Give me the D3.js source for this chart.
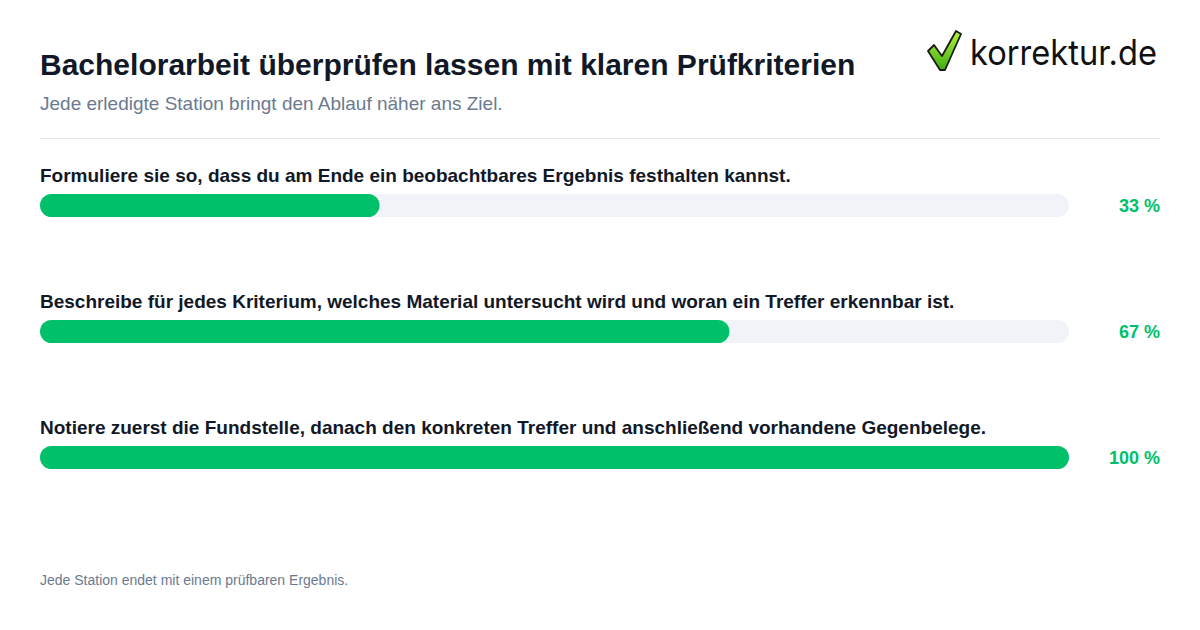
<!DOCTYPE html>
<html><head><meta charset="utf-8">
<script src="https://cdn.jsdelivr.net/npm/d3@7"></script>
<style>html,body{margin:0;padding:0;background:#fff;}</style>
</head><body>
<svg id="c" width="1200" height="630"></svg>
<script>
const title = "Bachelorarbeit überprüfen lassen mit klaren Prüfkriterien";
const subtitle = "Jede erledigte Station bringt den Ablauf näher ans Ziel.";
const footer = "Jede Station endet mit einem prüfbaren Ergebnis.";
const categories = [
  "Formuliere sie so, dass du am Ende ein beobachtbares Ergebnis festhalten kannst.",
  "Beschreibe für jedes Kriterium, welches Material untersucht wird und woran ein Treffer erkennbar ist.",
  "Notiere zuerst die Fundstelle, danach den konkreten Treffer und anschließend vorhandene Gegenbelege."
];
const values = [33, 67, 100];
const valueLabels = ["33 %", "67 %", "100 %"];

const svg = d3.select("#c");
const font = "'Liberation Sans', Arial, Helvetica, sans-serif";
const green = "#00c16a";

svg.append("text").attr("x", 40).attr("y", 75).text(title)
  .attr("font-family", font).attr("font-weight", 700).attr("font-size", 30).attr("fill", "#111827");
svg.append("text").attr("x", 40).attr("y", 110).text(subtitle)
  .attr("font-family", font).attr("font-size", 19).attr("fill", "#6b7a90");
svg.append("line").attr("x1", 40).attr("x2", 1160).attr("y1", 138.5).attr("y2", 138.5)
  .attr("stroke", "#e2e8f0").attr("stroke-width", 1);

// logo
const logo = svg.append("g");
const grad = svg.append("defs").append("linearGradient").attr("id", "lg")
  .attr("x1", "0").attr("y1", "0").attr("x2", "0").attr("y2", "1");
grad.append("stop").attr("offset", "0%").attr("stop-color", "#b6f23a");
grad.append("stop").attr("offset", "100%").attr("stop-color", "#3fae12");
logo.append("path")
  .attr("d", "M928,51 L934,45 L942,56 L956,31 L961,34 L945,70 L940,70 Z")
  .attr("fill", "url(#lg)").attr("stroke", "#1a1a1a").attr("stroke-width", 1.8).attr("stroke-linejoin", "round");
logo.append("text").attr("x", 970).attr("y", 65).text("korrektur.de")
  .attr("font-family", "Inter, 'Open Sans', sans-serif").attr("font-weight", 400).attr("font-size", 35).attr("fill", "#111")
  .attr("textLength", 187).attr("lengthAdjust", "spacingAndGlyphs");

const x = d3.scaleLinear().domain([0, 100]).range([40, 1069]);
const y = d3.scaleBand().domain(d3.range(categories.length)).range([194, 194 + 126 * 3]).paddingInner(0).paddingOuter(0);
const barH = 23;

const rows = svg.selectAll("g.row").data(categories).join("g").attr("class", "row")
  .attr("transform", (d, i) => `translate(0,${y(i)})`);
rows.append("text").attr("x", 40).attr("y", -12).text(d => d)
  .attr("font-family", font).attr("font-weight", 700).attr("font-size", 19).attr("fill", "#111827");
rows.append("rect").attr("x", x(0)).attr("y", 0).attr("width", x(100) - x(0)).attr("height", barH)
  .attr("rx", barH / 2).attr("fill", "#f0f4f8");
rows.append("rect").attr("x", x(0)).attr("y", 0).attr("width", (d, i) => x(values[i]) - x(0)).attr("height", barH)
  .attr("rx", barH / 2).attr("fill", green);
rows.append("text").attr("x", 1160).attr("y", 18).attr("text-anchor", "end").text((d, i) => valueLabels[i])
  .attr("font-family", font).attr("font-weight", 700).attr("font-size", 18).attr("fill", green);

svg.append("text").attr("x", 40).attr("y", 585).text(footer)
  .attr("font-family", font).attr("font-size", 14).attr("fill", "#6b7a90");
</script>
</body></html>
